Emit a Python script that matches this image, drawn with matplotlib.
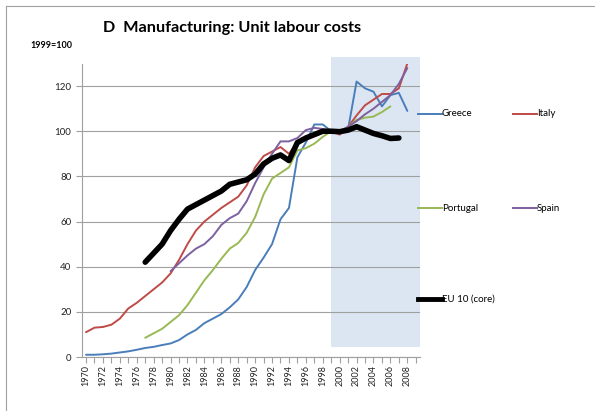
import matplotlib
matplotlib.use("Agg")
import matplotlib.pyplot as plt
import numpy as np
from matplotlib.lines import Line2D

plt.rcParams['font.family'] = ['Lato', 'DejaVu Sans']

years = list(range(1970, 2010))

greece = [1, 1, 1.2, 1.5, 2, 2.5, 3.2, 4, 4.5, 5.3,
          6, 7.5, 10, 12, 15, 17, 19, 22, 25.5, 31,
          38.5, 44, 50, 61, 66, 88.5, 95, 103, 103, 100,
          99, 101, 122, 119, 117.5, 111, 116, 117, 109, None]
italy = [11, 13, 13.3, 14.3, 17, 21.5, 24, 27, 30, 33,
         37, 43, 50, 56, 60, 63, 66, 68.5, 71, 76,
         84, 89, 91, 93, 90, 95, 97.5, 99, 100, 100,
         98.5, 102, 107, 111.5, 114, 116.5, 116.5, 119, 130, None]
portugal = [None] * 7 + [8.5, 10.5, 12.5,
            15.5, 18.5, 23, 28.5, 34, 38.5, 43.5, 48, 50.5, 55,
            62, 72, 79, 81.5, 84, 91.5, 92.5, 94.5, 97.5, 100,
            100, 102, 105, 106, 106.5, 108.5, 111, None, None, None]
spain = [None] * 10 + [38, 41.5, 45, 48, 50, 53.5, 58.5, 61.5, 63.5, 69,
         77, 84, 90, 95.5, 95.5, 97, 100.5, 101.5, 101, 100,
         100, 102, 104.5, 107.5, 110, 113, 116, 121, 128, None]
eu10 = [None] * 7 + [42, 46, 50,
        56, 61, 65.5, 67.5, 69.5, 71.5, 73.5, 76.5, 77.5, 78.5,
        81, 85.5, 88, 89.5, 87, 95, 97, 98.5, 100, 100,
        99.8, 100.5, 102, 100.5, 99, 98, 96.8, 97, None, None]

series_names = ["Greece", "Italy", "Portugal", "Spain", "EU 10 (core)"]
series_vals = [greece, italy, portugal, spain, eu10]
colors = ["#4A7EBB", "#BE4B48", "#98B954", "#7D60A0", "#000000"]
widths = [1.4, 1.4, 1.4, 1.4, 4.0]

y_ticks = [0, 20, 40, 60, 80, 100, 120]
x_labels = [str(y) for y in years if y % 2 == 0]
shade_start = 1999

W, H = 595, 411
fig = plt.figure(figsize=(W / 100, H / 100), dpi=100)
ax = fig.add_axes([81.8 / W, 1 - 357 / H, (420 - 81.8) / W, (357 - 63.5) / H])

idx = np.arange(len(years))

# shaded euro period
s = years.index(shade_start)
ax.fill_between([s, len(years) - 0.5], [4.4, 4.4], [133, 133],
                color="#DCE6F2", zorder=0, clip_on=False, linewidth=0)

for name, vals, c, lw in zip(series_names, series_vals, colors, widths):
    v = np.array([np.nan if x is None else x for x in vals], dtype=float)
    ax.plot(idx, v, color=c, lw=lw, solid_capstyle='round', zorder=3 if lw < 2 else 4)

ax.set_xlim(-0.5, len(years) - 0.5)
ax.set_ylim(0, 130)
ax.set_yticks(y_ticks)
ax.set_yticklabels([str(t) for t in y_ticks], fontsize=7, color="#222222")
ax.yaxis.grid(True, color="#A0A0A0", lw=0.8, zorder=1)
ax.set_axisbelow(True)
ax.tick_params(axis='y', length=4, color="#A0A0A0", width=0.8)

ax.set_xticks(idx[::2])
ax.set_xticklabels(x_labels, rotation=90, fontsize=6.5, color="#222222")
ax.set_xticks(idx, minor=True)
ax.tick_params(axis='x', which='both', length=4, color="#A0A0A0", width=0.8, pad=2)

for sp in ["top", "right"]:
    ax.spines[sp].set_visible(False)
for sp in ["left", "bottom"]:
    ax.spines[sp].set_color("#A0A0A0")
    ax.spines[sp].set_linewidth(0.8)

# title and unit
fig.text(103 / W, 1 - 28 / H, "D  Manufacturing: Unit labour costs",
         fontsize=11.7, fontweight='bold', ha='left', va='center')
fig.text(30 / W, 1 - 45 / H, "1999=100", fontsize=6.5, fontweight='bold',
         ha='left', va='center')

# legend (manual layout)
leg_pos = [(418, 114), (513, 114), (418, 208), (513, 208), (418, 299)]
for (px, py), name, c, lw in zip(leg_pos, series_names, colors, widths):
    yy = 1 - py / H
    fig.add_artist(Line2D([px / W, (px + 24) / W], [yy, yy], color=c,
                          lw=lw if lw < 2 else 3.5, transform=fig.transFigure))
    fig.text((px + 24) / W, yy, name, fontsize=7, ha='left', va='center')

# frame
fig.add_artist(Line2D([6 / W, 6 / W], [0, 1 - 6 / H], color="#A0A0A0", lw=0.8,
                      transform=fig.transFigure))
fig.add_artist(Line2D([6 / W, 1], [1 - 6 / H, 1 - 6 / H], color="#A0A0A0", lw=0.8,
                      transform=fig.transFigure))

fig.savefig("out.png", dpi=100)
